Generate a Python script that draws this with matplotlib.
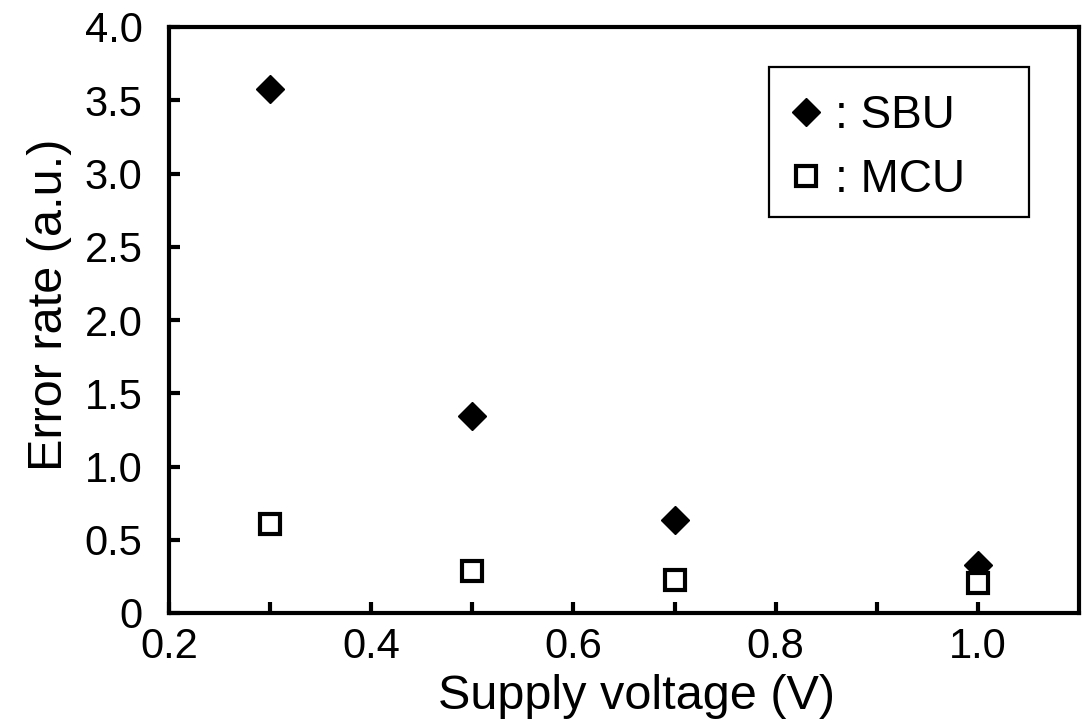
import matplotlib
matplotlib.use("Agg")
import matplotlib.pyplot as plt
from matplotlib.ticker import FixedLocator
from matplotlib.patches import Rectangle

plt.rcParams['font.family'] = ['Liberation Sans', 'DejaVu Sans']

voltage = [0.3, 0.5, 0.7, 1.0]
sbu = [3.58, 1.345, 0.635, 0.33]
mcu = [0.61, 0.29, 0.225, 0.205]
xticks = [0.2, 0.4, 0.6, 0.8, 1.0]
xticklabels = ["0.2", "0.4", "0.6", "0.8", "1.0"]
yticks = [0, 0.5, 1.0, 1.5, 2.0, 2.5, 3.0, 3.5, 4.0]
yticklabels = ["0", "0.5", "1.0", "1.5", "2.0", "2.5", "3.0", "3.5", "4.0"]

W, H = 1084, 725
fig = plt.figure(figsize=(W/100, H/100), dpi=100)
ax = fig.add_axes([169/W, 1 - 613/H, (1079-169)/W, (613-27)/H])

ax.plot(voltage, sbu, linestyle='none', marker='D', markersize=14,
        color='black', label=': SBU')
ax.plot(voltage, mcu, linestyle='none', marker='s', markersize=15,
        markerfacecolor='white', markeredgecolor='black', markeredgewidth=3,
        label=': MCU')

ax.set_xlim(0.2, 1.1)
ax.set_ylim(0, 4.0)
ax.set_xticks(xticks)
ax.set_xticklabels(xticklabels)
ax.xaxis.set_minor_locator(FixedLocator([0.3, 0.5, 0.7, 0.9]))
ax.set_yticks(yticks)
ax.set_yticklabels(yticklabels)

for s in ax.spines.values():
    s.set_linewidth(3)
ax.tick_params(axis='both', which='both', direction='in', length=8, width=3,
               labelsize=30, pad=10)
ax.tick_params(axis='y', pad=19)

ax.set_xlabel('Supply voltage (V)', fontsize=35)
ax.set_ylabel('Error rate (a.u.)', fontsize=35)
ax.xaxis.set_label_coords((637-169)/910, -(674-613)/586)
ax.yaxis.set_label_coords(-(169-72)/910, (613-305)/586)

leg = ax.legend(loc='upper left', bbox_to_anchor=((762-169)/910, 1 - (73-27)/586),
                fontsize=33, frameon=False, borderpad=0.45, handletextpad=0.15,
                labelspacing=0.45, handlelength=1.0, borderaxespad=0)

fig.add_artist(Rectangle((769/W, 1 - 217/H), (1029-769)/W, (217-67)/H,
                         transform=fig.transFigure, fill=False,
                         edgecolor='black', linewidth=1.6))

fig.savefig('out.png', dpi=100)
